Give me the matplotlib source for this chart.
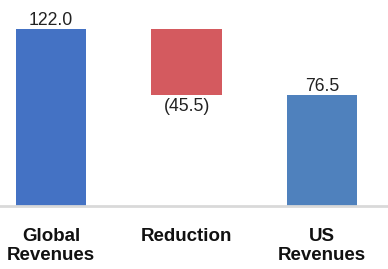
import matplotlib
matplotlib.use("Agg")
import matplotlib.pyplot as plt

categories = ["Global\nRevenues", "Reduction", "US\nRevenues"]
values = [122.0, -45.5, 76.5]
kinds = ["total", "delta", "total"]
value_labels = ["122.0", "(45.5)", "76.5"]
colors = ["#4472C4", "#D45A5F", "#4F81BD"]

plt.rcParams['font.family'] = ['Liberation Sans', 'DejaVu Sans']

fig = plt.figure(figsize=(3.88, 2.69), dpi=100)
ax = fig.add_axes([0, 63/269, 1, 206/269])

running = 0.0
bottoms, heights = [], []
for v, k in zip(values, kinds):
    if k == "total":
        bottoms.append(0.0)
        heights.append(v)
        running = v
    else:
        new = running + v
        bottoms.append(min(running, new))
        heights.append(abs(v))
        running = new

x = list(range(len(categories)))
ax.bar(x, heights, bottom=bottoms, width=0.52, color=colors, linewidth=0)

for xi, b, h, k, lab, v in zip(x, bottoms, heights, kinds, value_labels, values):
    if k == "delta" and v < 0:
        ax.annotate(lab, (xi, b), xytext=(0, -2.5), textcoords="offset points",
                    ha="center", va="top", fontsize=12.7, color="#222222")
    else:
        ax.annotate(lab, (xi, b + h), xytext=(0, 3), textcoords="offset points",
                    ha="center", va="baseline", fontsize=12.7, color="#222222")

ax.set_xlim(-0.378, 2.487)
ax.set_ylim(0, 142)
ax.set_yticks([])
ax.set_xticks(x)
ax.set_xticklabels(categories, fontsize=13.5, fontweight="bold", color="#111111",
                   linespacing=1.12)
ax.tick_params(axis="x", length=0, pad=16)
for s in ["top", "left", "right"]:
    ax.spines[s].set_visible(False)
ax.spines["bottom"].set_color("#d9d9d9")
ax.spines["bottom"].set_linewidth(2)

fig.savefig("out.png", dpi=100)
